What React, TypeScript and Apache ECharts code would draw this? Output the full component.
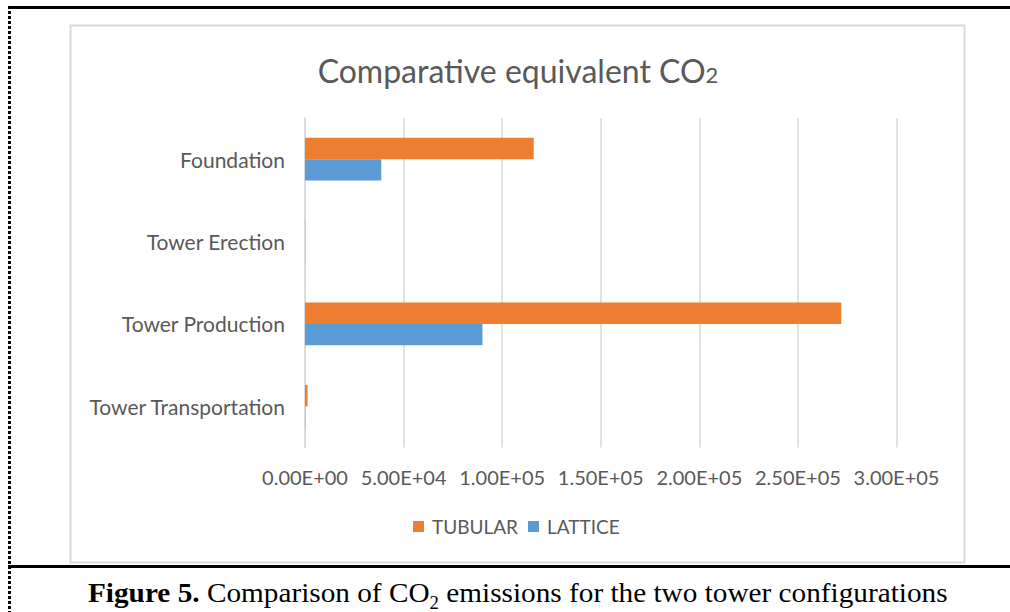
import React, { useEffect, useRef } from "react";
import * as echarts from "echarts";

const categories = ["Tower Transportation", "Tower Production", "Tower Erection", "Foundation"];
const tubular = [1300, 272000, 100, 116000];
const lattice = [150, 90000, 80, 38700];
const seriesNames = ["TUBULAR", "LATTICE"];
const axisMax = 300000;
const axisStep = 50000;

const fmt = (v: number) =>
  v.toExponential(2).toUpperCase().replace(/E([+-])(\d)$/, "E$10$2");

export default function App() {
  const ref = useRef<HTMLDivElement>(null);
  useEffect(() => {
    const chart = echarts.init(ref.current!, null, { renderer: "svg" });
    const gray = "#595959";
    const font = "Lato, 'Open Sans', sans-serif";
    const serif = "'Liberation Serif', 'Times New Roman', serif";
    chart.setOption({
      animation: false,
      backgroundColor: "#ffffff",
      grid: { left: 305, right: 113.5, top: 118, bottom: 164.5, containLabel: false },
      xAxis: {
        type: "value",
        min: 0,
        max: axisMax,
        interval: axisStep,
        axisLine: { show: false },
        axisTick: { show: false },
        splitLine: { lineStyle: { color: "#d9d9d9", width: 1.5 } },
        axisLabel: { formatter: fmt, color: gray, fontSize: 20, fontFamily: font, margin: 19 },
      },
      yAxis: {
        type: "category",
        data: categories,
        axisLine: { show: true, lineStyle: { color: "#d9d9d9", width: 1.5 } },
        axisTick: { show: false },
        axisLabel: { color: gray, fontSize: 21, fontFamily: font, margin: 20 },
      },
      legend: {
        data: seriesNames,
        left: 413,
        top: 517,
        padding: 0,
        icon: "rect",
        itemWidth: 11,
        itemHeight: 11,
        itemGap: 10,
        textStyle: { color: gray, fontSize: 19, fontFamily: font, padding: [0, 0, 0, 3] },
      },
      series: [
        {
          name: seriesNames[0],
          type: "bar",
          data: tubular,
          itemStyle: { color: "#ED7D31" },
          barGap: "0%",
          barCategoryGap: "48%",
        },
        {
          name: seriesNames[1],
          type: "bar",
          data: lattice,
          itemStyle: { color: "#5B9BD5" },
          barGap: "0%",
          barCategoryGap: "48%",
        },
      ],
      graphic: [
        { type: "line", shape: { x1: 8, y1: 7.5, x2: 1010, y2: 7.5 }, style: { stroke: "#000", lineWidth: 3 } },
        { type: "line", shape: { x1: 9.5, y1: 6, x2: 9.5, y2: 612 }, style: { stroke: "#000", lineWidth: 3, lineDash: [3, 2] } },
        { type: "line", shape: { x1: 8, y1: 566.5, x2: 1010, y2: 566.5 }, style: { stroke: "#000", lineWidth: 3 } },
        { type: "rect", shape: { x: 70.5, y: 25.5, width: 894, height: 537 }, style: { fill: "none", stroke: "#d9d9d9", lineWidth: 2 }, z: -1 },
        {
          type: "text",
          x: 518,
          y: 70,
          style: {
            text: "{a|Comparative equivalent CO}{b|2}",
            align: "center",
            verticalAlign: "middle",
            rich: {
              a: { fontSize: 32, fontFamily: font, fill: gray, verticalAlign: "bottom" },
              b: { fontSize: 22, fontFamily: font, fill: gray, verticalAlign: "bottom", padding: [0, 0, 1, 0] },
            },
          },
        },
        {
          type: "text",
          x: 88,
          y: 578,
          scaleX: 1.045,
          style: {
            text: "{b|Figure 5.}{n| Comparison of CO}{s|2}{n| emissions for the two tower configurations}",
            align: "left",
            verticalAlign: "top",
            rich: {
              b: { fontSize: 28, fontWeight: "bold", fontFamily: serif, fill: "#000", verticalAlign: "bottom" },
              n: { fontSize: 28, fontFamily: serif, fill: "#000", verticalAlign: "bottom" },
              s: { fontSize: 18, fontFamily: serif, fill: "#000", verticalAlign: "bottom", padding: [0, 0, -6, 0] },
            },
          },
        },
      ],
    });
    return () => chart.dispose();
  }, []);
  return (
    <div
      ref={ref}
      style={{ position: "fixed", left: 0, top: 0, width: 1010, height: 612 }}
    />
  );
}
